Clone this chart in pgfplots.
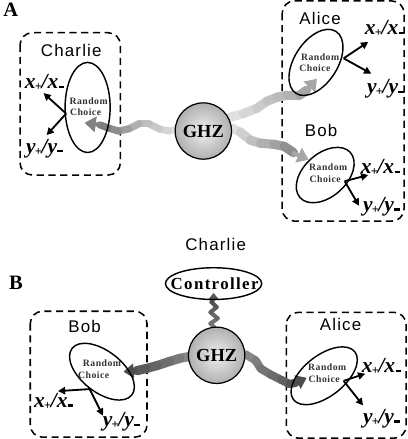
\documentclass[border=0pt]{standalone}
\usepackage{pgfplots}
\pgfplotsset{compat=1.18}
\usepackage{fontspec}
\setmainfont{Liberation Serif}
\newfontfamily\namefont[LetterSpace=7]{Liberation Sans}
\newfontfamily\rcfont[LetterSpace=5]{Liberation Serif}
\usetikzlibrary{arrows.meta,shapes.geometric}
\newcommand{\sbp}{\kern-0.8pt\raisebox{-2pt}{\fontsize{12}{12}\selectfont\upshape\bfseries +}\kern-0.3pt}
\newcommand{\sbm}{\kern0.3pt\rule[0.8pt]{5.5pt}{2.2pt}}
\newcommand{\xlab}{\fontsize{21}{22}\selectfont\bfseries\itshape x\sbp/x\sbm}
\newcommand{\ylab}{\fontsize{21}{22}\selectfont\bfseries\itshape y\sbp/y\sbm}
\newcommand{\rc}{\rcfont\fontsize{9.5}{10}\selectfont\bfseries}
\newcommand{\nm}{\namefont\fontsize{16.5}{18}\selectfont}
\begin{document}
\begin{tikzpicture}
\begin{axis}[hide axis, scale only axis, width=413pt, height=439pt,
  xmin=0, xmax=413, ymin=0, ymax=439, y dir=reverse, clip=false,
  point meta min=0, point meta max=1]
% ---------- dashed boxes
\draw[line width=1.5pt, dash pattern=on 7pt off 4.5pt, rounded corners=12pt] (32,38) rectangle (130,177);
\draw[line width=1.5pt, dash pattern=on 7pt off 4.5pt, rounded corners=12pt] (288,7) rectangle (407,222);
\draw[line width=1.5pt, dash pattern=on 7pt off 4.5pt, rounded corners=12pt] (42,310) rectangle (156,433);
\draw[line width=1.5pt, dash pattern=on 7pt off 4.5pt, rounded corners=12pt] (292,311) rectangle (409,434);
% ---------- beams panel A
\addplot[mesh, colormap={bA}{gray(0cm)=(0.45); gray(1cm)=(0.9)}, point meta=explicit, line width=7pt, line cap=round]
 coordinates {(186,132)[1] (177,134)[0.9] (168,132)[0.8] (158,127)[0.7] (148,127)[0.6] (138,132)[0.45] (128,134)[0.3] (118,131)[0.15] (110,128)[0.05]};
\addplot[draw=gray!60!black!70, line width=4pt, -{Triangle[length=11pt,width=15pt]}] coordinates {(110,128) (95,126)};
\addplot[mesh, colormap={bB}{gray(0cm)=(0.62); gray(1cm)=(0.9)}, point meta=explicit, line width=9pt, line cap=round]
 coordinates {(236,121)[1] (250,117)[0.85] (263,112)[0.7] (273,105)[0.55] (283,101)[0.45] (293,99)[0.35] (305,99)[0.2] (312,94)[0.05]};
\addplot[draw=gray!70, line width=4pt, -{Triangle[length=11pt,width=15pt]}] coordinates {(310,96) (322,83)};
\addplot[mesh, colormap={bC}{gray(0cm)=(0.5); gray(1cm)=(0.9)}, point meta=explicit, line width=9pt, line cap=round]
 coordinates {(238,131)[1] (247,135)[0.85] (257,143)[0.7] (267,146)[0.55] (280,147)[0.4] (290,149)[0.25] (299,155)[0.05]};
\addplot[draw=gray!85!black!60, line width=4pt, -{Triangle[length=11pt,width=15pt]}] coordinates {(298,155) (314,162)};
% ---------- beams panel B
\addplot[mesh, colormap={bD}{gray(0cm)=(0.3); gray(1cm)=(0.5)}, point meta=explicit, line width=4pt, line cap=round]
 coordinates {(223,327)[1] (218,322)[0.8] (225,317)[0.6] (218,311)[0.5] (224,306)[0.3] (219,301)[0.1] (221,298)[0]};
\addplot[draw=gray!70!black, line width=2pt, -{Triangle[length=6pt,width=9pt]}] coordinates {(221,300) (221,292)};
\addplot[mesh, colormap={bE}{gray(0cm)=(0.3); gray(1cm)=(0.55)}, point meta=explicit, line width=9pt, line cap=round]
 coordinates {(198,354)[1] (188,356)[0.8] (178,359)[0.6] (166,363)[0.45] (155,366)[0.3] (146,368)[0.1]};
\addplot[draw=gray!60!black, line width=4pt, -{Triangle[length=10pt,width=14pt]}] coordinates {(146,368) (133,369)};
\addplot[mesh, colormap={bF}{gray(0cm)=(0.3); gray(1cm)=(0.55)}, point meta=explicit, line width=8pt, line cap=round]
 coordinates {(252,352)[1] (262,358)[0.85] (267,366)[0.7] (277,372)[0.55] (287,377)[0.4] (295,381)[0.2] (301,380)[0.05]};
\addplot[draw=gray!60!black, line width=4pt, -{Triangle[length=10pt,width=14pt]}] coordinates {(299,381) (312,375)};
% ---------- GHZ spheres
\node[circle, draw, line width=1.2pt, minimum size=55pt, inner sep=0pt, inner color=gray!12, outer color=gray!62,
  font=\fontsize{18}{20}\selectfont\bfseries] at (211,134) {GHZ};
\node[circle, draw, line width=1.2pt, minimum size=55pt, inner sep=0pt, inner color=gray!12, outer color=gray!62,
  font=\fontsize{18}{20}\selectfont\bfseries] at (224,353) {GHZ};
% ---------- ellipses
\node[ellipse, draw, line width=1.4pt, minimum width=44pt, minimum height=88pt, inner sep=0pt] at (98,111) {};
\node[ellipse, draw, line width=1.4pt, minimum width=72pt, minimum height=42pt, inner sep=0pt, rotate=57] at (321,67) {};
\node[ellipse, draw, line width=1.4pt, minimum width=66pt, minimum height=42pt, inner sep=0pt, rotate=42] at (330,177) {};
\node[ellipse, draw, line width=1.4pt, minimum width=94pt, minimum height=31pt, inner sep=0pt] at (221,283) {};
\node[ellipse, draw, line width=1.4pt, minimum width=74pt, minimum height=40pt, inner sep=0pt, rotate=-38] at (112,369) {};
\node[ellipse, draw, line width=1.4pt, minimum width=76pt, minimum height=40pt, inner sep=0pt, rotate=38] at (329,373) {};
% ---------- measurement arrows
\addplot[line width=1.8pt, -{Triangle[length=7pt,width=7pt]}] coordinates {(77,117) (55,97)};
\addplot[line width=1.8pt, -{Triangle[length=7pt,width=7pt]}] coordinates {(77,117) (58,138)};
\addplot[line width=1.8pt, -{Triangle[length=7pt,width=7pt]}] coordinates {(348,63) (372,47)};
\addplot[line width=1.8pt, -{Triangle[length=7pt,width=7pt]}] coordinates {(348,63) (375,78)};
\addplot[line width=1.8pt, -{Triangle[length=7pt,width=7pt]}] coordinates {(349,183) (372,177)};
\addplot[line width=1.8pt, -{Triangle[length=7pt,width=7pt]}] coordinates {(349,183) (363,207)};
\addplot[line width=1.8pt, -{Triangle[length=7pt,width=7pt]}] coordinates {(100,386) (69,388)};
\addplot[line width=1.8pt, -{Triangle[length=7pt,width=7pt]}] coordinates {(100,386) (113,412)};
\addplot[line width=1.8pt, -{Triangle[length=7pt,width=7pt]}] coordinates {(348,378) (369,371)};
\addplot[line width=1.8pt, -{Triangle[length=7pt,width=7pt]}] coordinates {(348,378) (367,402)};
% ---------- texts
\node[font=\fontsize{20}{22}\selectfont\bfseries] at (23,16) {A};
\node[font=\fontsize{20}{22}\selectfont\bfseries] at (28,282) {B};
\node[font=\nm] at (82,55) {Charlie};
\node[font=\nm] at (325,24) {Alice};
\node[font=\nm] at (326,133) {Bob};
\node[font=\nm] at (223,245) {Charlie};
\node[font=\nm] at (95,325) {Bob};
\node[font=\nm] at (345,323) {Alice};
\node[font=\rcfont\fontsize{16.5}{18}\selectfont\bfseries] at (222,283) {\addfontfeature{LetterSpace=8}Controller};
% random choice
\node[font=\rc, text=black!80] at (99,105) {Random};
\node[font=\rc, text=black!80] at (96,116) {Choice};
\node[font=\rc, text=black!80] at (325,62) {Random};
\node[font=\rc, text=black!80] at (320,73) {Choice};
\node[font=\rc, text=black!80] at (333,169) {Random};
\node[font=\rc, text=black!80] at (330,181) {Choice};
\node[font=\rc, text=black!80] at (112,361) {Random};
\node[font=\rc, text=black!80] at (104,372) {Choice};
\node[font=\rc, text=black!80] at (332,365) {Random};
\node[font=\rc, text=black!80] at (329,376) {Choice};
% measurement labels
\node at (56,87) {\xlab};
\node at (56,151) {\ylab};
\node at (388,34) {\xlab};
\node at (389,93) {\ylab};
\node at (384,170) {\xlab};
\node at (385,208) {\ylab};
\node at (65,398) {\xlab};
\node at (131,418) {\ylab};
\node at (385,364) {\xlab};
\node at (385,415) {\ylab};
\end{axis}
\end{tikzpicture}
\end{document}
